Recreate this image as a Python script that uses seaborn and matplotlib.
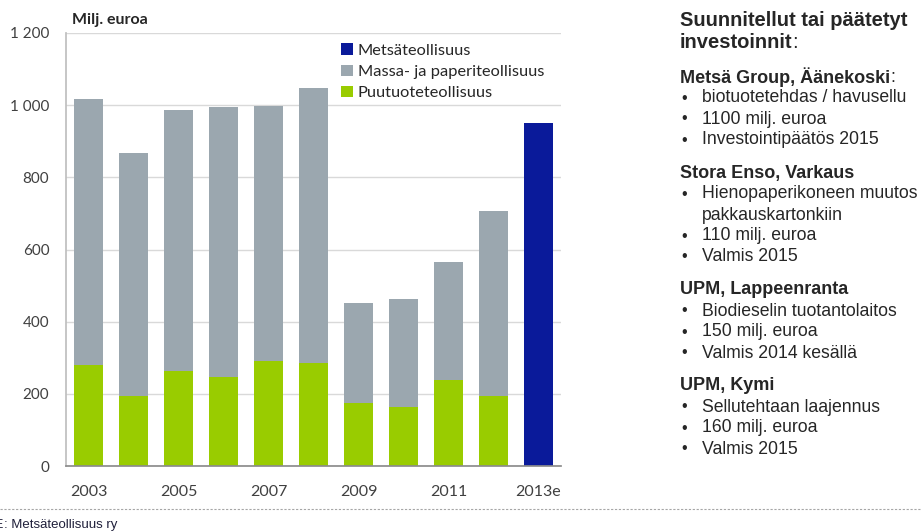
import matplotlib
matplotlib.use("Agg")
import matplotlib.pyplot as plt
from matplotlib.lines import Line2D
from matplotlib.patches import Patch
import pandas as pd
import seaborn as sns

years = ["2003", "2004", "2005", "2006", "2007", "2008",
         "2009", "2010", "2011", "2012", "2013e"]
puutuote = [280, 195, 262, 246, 292, 285, 174, 163, 239, 195, 0]
massa_paperi = [736, 672, 724, 748, 706, 762, 277, 301, 325, 512, 0]
metsateollisuus = [0, 0, 0, 0, 0, 0, 0, 0, 0, 0, 951]
shown_year_labels = ["2003", "2005", "2007", "2009", "2011", "2013e"]
y_ticks = [0, 200, 400, 600, 800, 1000, 1200]

series_names = ["Metsäteollisuus", "Massa- ja paperiteollisuus",
                "Puutuoteteollisuus"]
colors = {"Metsäteollisuus": "#0A1A9A",
          "Massa- ja paperiteollisuus": "#9BA7AF",
          "Puutuoteteollisuus": "#99CC00"}

panel = [
    ("Metsä Group, Äänekoski", True,
     ["biotuotetehdas / havusellu", "1100 milj. euroa",
      "Investointipäätös 2015"]),
    ("Stora Enso, Varkaus", False,
     ["Hienopaperikoneen muutos\npakkauskartonkiin", "110 milj. euroa",
      "Valmis 2015"]),
    ("UPM, Lappeenranta", False,
     ["Biodieselin tuotantolaitos", "150 milj. euroa",
      "Valmis 2014 kesällä"]),
    ("UPM, Kymi", False,
     ["Sellutehtaan laajennus", "160 milj. euroa", "Valmis 2015"]),
]

df = pd.DataFrame({
    "vuosi": years,
    "puu": puutuote,
    "pino": [p + m for p, m in zip(puutuote, massa_paperi)],
    "mets": metsateollisuus,
})

W, H = 921, 531
sns.set_theme(style="white")
plt.rcParams["font.family"] = ["Lato", "DejaVu Sans"]

fig = plt.figure(figsize=(W / 100, H / 100), dpi=100)
ax = fig.add_axes([66 / W, 65 / H, 495 / W, 433 / H])


def px(x, y):
    return x / W, 1 - y / H


# stacked columns: gray total first, green part on top of it
sns.barplot(data=df, x="vuosi", y="pino", order=years, ax=ax,
            color=colors["Massa- ja paperiteollisuus"], saturation=1,
            width=0.66, linewidth=0, zorder=2)
sns.barplot(data=df, x="vuosi", y="puu", order=years, ax=ax,
            color=colors["Puutuoteteollisuus"], saturation=1,
            width=0.66, linewidth=0, zorder=3)
sns.barplot(data=df, x="vuosi", y="mets", order=years, ax=ax,
            color=colors["Metsäteollisuus"], saturation=1,
            width=0.66, linewidth=0, zorder=3)

ax.set_ylim(0, 1200)
ax.set_xlim(-0.5, len(years) - 0.5)
ax.set_yticks(y_ticks)
ax.set_yticklabels([f"{v:,}".replace(",", " ") for v in y_ticks])
ax.set_xticks([years.index(y) for y in shown_year_labels])
ax.set_xticklabels(shown_year_labels)
ax.set_xticks([i - 0.5 for i in range(len(years) + 1)], minor=True)
ax.tick_params(axis="x", which="major", length=0, pad=14,
               labelsize=11.5, labelcolor="#404040")
ax.tick_params(axis="x", which="minor", length=6, width=1,
               color="#8C8C8C", direction="out")
ax.tick_params(axis="y", length=6, width=1, color="#BFBFBF",
               labelsize=11, labelcolor="#404040", pad=6)
ax.set_xlabel("")
ax.set_ylabel("")

ax.yaxis.grid(True, color="#D9D9D9", linewidth=1, zorder=0)
ax.set_axisbelow(True)
for side in ["top", "right"]:
    ax.spines[side].set_visible(False)
ax.spines["left"].set_color("#BFBFBF")
ax.spines["bottom"].set_color("#8C8C8C")
ax.spines["bottom"].set_zorder(4)

fig.text(*px(72, 20), "Milj. euroa", fontsize=11.5, fontweight="bold",
         color="#262626", va="center", ha="left")

handles = [Patch(facecolor=colors[n], edgecolor="none") for n in series_names]
ax.legend(handles, series_names, loc="upper left",
          bbox_to_anchor=px(333, 35), bbox_transform=fig.transFigure,
          frameon=False, fontsize=11.8, handlelength=0.7, handleheight=0.7,
          handletextpad=0.3, labelspacing=0.42, borderpad=0,
          labelcolor="#262626")

# right-hand text panel
renderer = fig.canvas.get_renderer()
panel_font = ["Liberation Sans", "DejaVu Sans"]


def bold_with_colon(x, y, text, size, colon):
    t = fig.text(*px(x, y), text, fontsize=size, fontweight="bold",
                 family=panel_font, color="#262626", va="center")
    if colon:
        bb = t.get_window_extent(renderer)
        fig.text(bb.x1 / W, 1 - y / H, ":", fontsize=size,
                 family=panel_font, color="#262626", va="center")


fig.text(*px(680, 20), "Suunnitellut tai päätetyt", fontsize=14.5,
         fontweight="bold", family=panel_font, color="#262626", va="center")
bold_with_colon(680, 43, "investoinnit", 14.5, True)

y = 77
for heading, colon, bullets in panel:
    bold_with_colon(680, y, heading, 13, colon)
    y += 21
    for item in bullets:
        for k, line in enumerate(item.split("\n")):
            if k == 0:
                fig.text(*px(681, y), "•", fontsize=11.5, family=panel_font,
                         color="#262626", va="center", ha="left")
            fig.text(*px(702, y), line, fontsize=12.7, family=panel_font,
                     color="#262626", va="center", ha="left")
            y += 21
    y += 12

# source line at the bottom
fig.add_artist(Line2D([0, 1], [1 - 509 / H] * 2, transform=fig.transFigure,
                      color="#A6A6A6", linewidth=0.8, linestyle=(0, (2, 1.5))))
fig.text(*px(4, 525), "LÄHDE", fontsize=9.5, family=panel_font,
         color="#1F1F3A", va="center", ha="right")
fig.text(*px(4, 525), ": Metsäteollisuus ry", fontsize=9.5,
         family=panel_font, color="#1F1F3A", va="center", ha="left")

fig.savefig("out.png", dpi=100)
